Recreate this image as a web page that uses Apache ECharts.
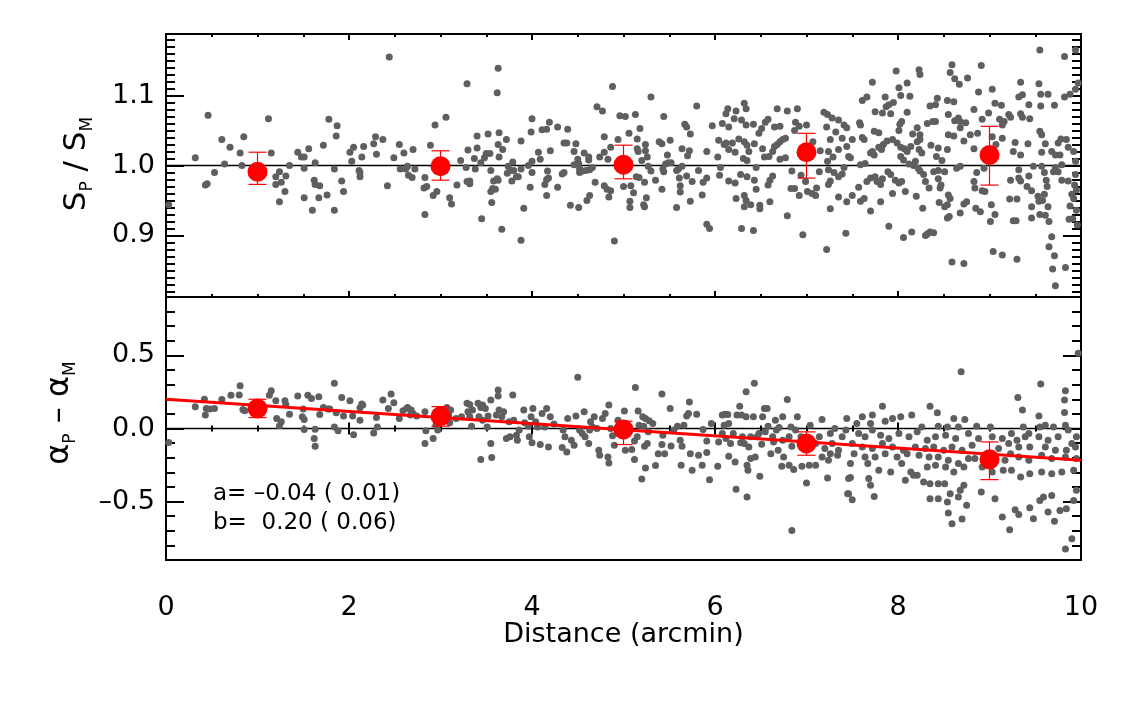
<!DOCTYPE html>
<html>
<head>
<meta charset="utf-8">
<title>Distance</title>
<script src="https://cdn.jsdelivr.net/npm/echarts@6/dist/echarts.min.js"></script>
<style>
  html, body { margin: 0; padding: 0; background: #fff; }
  #chart { width: 1146px; height: 707px; }
</style>
</head>
<body>
<div id="chart"></div>
<script>
// x ticks / y ticks
var xMajorTicks = [0, 2, 4, 6, 8, 10];
var topMajorTicks = [0.9, 1.0, 1.1];
var botMajorTicks = [-0.5, 0.0, 0.5];

// binned means (red)
var binX = [1, 3, 5, 7, 9];
var topBinY  = [0.991, 0.999, 1.001, 1.019, 1.015];
var topBinLo = [0.973, 0.979, 0.981, 0.982, 0.972];
var topBinHi = [1.019, 1.021, 1.029, 1.046, 1.056];
var botBinY  = [0.137, 0.084, -0.007, -0.103, -0.211];
var botBinLo = [0.075, 0.016, -0.110, -0.183, -0.350];
var botBinHi = [0.200, 0.150, 0.050, -0.023, -0.092];

// linear fit, alpha_P - alpha_M = a*d + b
var fitLine = [[0, 0.200], [10, -0.218]];
var fitText = ['a= –0.04 ( 0.01)', 'b=  0.20 ( 0.06)'];

// S_P / S_M  vs distance
var topPoints = [
[0.46,1.072],[1.12,1.067],[1.78,1.066],[1.87,1.057],[1.86,1.042],[0.61,1.037],[0.85,1.041],[0.70,1.026],[0.81,1.018],[1.15,1.018],[0.32,1.011],[0.64,1.002],[0.83,1.000],[0.53,0.990],[0.43,0.972],[0.45,0.974],[1.20,0.984],[1.24,0.991],[1.20,0.973],[1.26,0.976],[1.31,0.985],[1.30,0.963],[1.24,0.948],[1.35,1.000],[1.44,1.019],[1.48,1.012],[1.51,1.012],[1.56,1.024],[1.63,1.004],[1.51,0.996],[1.51,0.954],[1.60,0.936],[1.62,0.979],[1.63,0.973],[1.68,0.971],[1.67,0.954],[1.76,0.958],[1.72,1.029],[1.84,0.995],[1.84,0.936],[1.92,0.978],[1.94,0.963],[2.01,1.019],[2.05,1.026],[2.03,1.006],[2.16,1.027],[2.14,1.012],[2.11,0.993],[2.12,0.990],[2.12,0.984],[2.27,1.031],[2.29,1.041],[2.30,1.016],[2.37,1.037],[2.42,0.971],[0.03,0.944],[2.44,1.155],
[2.49,1.011],[2.55,1.030],[2.60,1.018],[2.70,1.023],[2.56,0.995],[2.62,0.995],[2.64,0.999],[2.65,0.986],[2.69,0.983],[2.72,0.995],[2.83,0.983],[2.82,0.968],[2.85,0.970],[2.89,1.029],[2.94,1.058],[3.06,1.069],[2.92,0.957],[2.96,0.963],[3.10,0.954],[3.12,0.945],[2.83,0.930],[3.29,1.117],[3.63,1.139],[3.62,1.104],[3.18,0.972],[3.22,1.007],[3.28,0.997],[3.30,1.022],[3.29,0.977],[3.32,0.978],[3.32,0.974],[3.38,0.995],[3.37,1.010],[3.40,1.025],[3.40,1.042],[3.44,1.004],[3.45,0.924],[3.48,1.011],[3.50,1.017],[3.52,1.045],[3.54,1.017],[3.55,0.993],[3.55,0.963],[3.56,0.947],[3.57,0.967],[3.60,0.966],[3.58,0.978],[3.62,0.981],[3.63,0.979],[3.63,1.030],[3.64,1.047],[3.64,1.012],[3.68,1.023],[3.72,1.037],[3.67,0.909],[3.73,0.989],[3.74,0.999],[3.76,0.993],[3.78,0.978],[3.79,1.005],[3.80,0.993],[3.83,0.984],[3.85,0.984],[3.88,0.995],[3.88,1.035],[3.91,0.939],[3.88,0.893],[3.96,1.000],[3.98,0.969],[3.99,1.048],[4.00,1.067],[4.00,1.006],[4.00,0.990],[4.07,1.019],[4.09,1.009],[4.11,1.051],[4.16,1.052],[4.19,1.062],[4.20,1.021],[4.14,0.973],[4.16,0.980],[4.18,0.982],[4.16,0.957],[4.17,0.992],[4.28,1.055],[4.28,0.969],[4.33,0.988],[4.35,0.990],[4.39,1.052],[4.35,1.032],[4.38,1.032],[4.42,0.943],[4.46,1.001],[4.48,1.031],[4.46,1.020],[4.50,1.009],[4.51,0.940],[4.51,1.003],[4.52,0.990],[4.57,1.018],[4.62,1.012],[4.62,1.008],[4.60,0.950],[4.63,0.957],[4.52,0.995],[4.55,0.992],[4.59,0.993],[4.63,0.994],[4.66,0.997],[4.69,0.976],[4.71,1.084],[4.77,1.078],[4.74,1.012],[4.79,1.041],[4.79,1.019],[4.83,1.009],[4.79,0.971],[4.82,0.966],[4.84,0.955],[4.86,0.964],[4.86,1.026],[4.88,1.113],[4.90,0.892],[4.96,1.071],[4.94,1.037],
[5.02,1.070],[5.30,1.098],[5.80,1.085],[5.13,1.073],[5.44,1.070],[5.06,1.046],[5.18,1.053],[5.24,1.030],[5.15,1.038],[5.20,1.007],[5.26,1.012],[5.15,1.024],[5.16,1.020],[5.24,1.021],[5.39,1.034],[5.42,1.031],[5.51,1.036],[5.27,0.999],[5.30,0.992],[5.35,0.979],[5.23,0.976],[5.14,0.984],[5.17,0.983],[5.08,0.971],[5.00,0.970],[5.07,0.949],[5.07,0.940],[5.23,0.941],[5.22,0.944],[5.25,0.954],[5.11,0.961],[5.42,0.966],[5.44,0.991],[5.43,0.995],[5.46,1.002],[5.49,1.004],[5.52,1.004],[5.48,1.015],[5.58,0.993],[5.60,0.995],[5.64,0.999],[5.61,0.982],[5.62,0.971],[5.62,0.962],[5.73,0.949],[5.58,0.940],[5.64,1.024],[5.72,1.021],[5.69,1.055],[5.67,1.059],[5.73,1.045],[5.70,1.014],[5.69,0.985],[5.75,0.977],[5.82,0.993],[5.87,0.976],[5.91,0.982],[5.91,1.020],[5.86,0.958],[5.91,0.916],[5.94,0.910],[5.97,1.057],[6.03,1.012],[6.05,0.986],[6.06,0.997],[6.04,1.036],[6.08,1.060],[6.12,1.074],[6.14,1.081],[6.15,1.055],[6.23,1.078],[6.32,1.089],[6.34,1.081],[6.21,1.067],[6.29,1.065],[6.34,1.058],[6.42,1.059],[6.10,1.030],[6.12,1.032],[6.15,1.023],[6.19,1.032],[6.22,1.019],[6.26,1.038],[6.32,1.034],[6.35,1.029],[6.37,1.020],[6.15,0.978],[6.22,0.975],[6.28,0.987],[6.35,0.984],[6.32,0.957],[6.23,0.953],[6.34,0.950],[6.32,0.941],[6.39,0.944],[6.29,0.910],[6.42,0.907],[6.31,1.010],[6.35,1.007],[6.43,1.031],[6.45,0.997],[6.43,0.979],[6.45,0.966],[6.49,0.943],[6.49,0.938],[6.48,1.046],[6.51,1.053],[6.55,1.062],[6.58,1.066],[6.52,1.024],[6.54,1.012],[6.59,1.013],[6.63,1.020],[6.63,0.985],[6.60,0.979],[6.58,0.972],[6.60,0.948],[6.65,1.027],[6.68,1.030],[6.71,1.034],[6.74,1.037],[6.77,1.039],[6.68,1.081],[6.79,1.078],[6.90,1.081],[6.71,1.056],[6.65,1.055],[6.71,1.009],[6.77,1.011],[6.79,0.928],[6.84,0.992],[6.83,0.967],[6.87,0.967],[6.92,0.957],[6.94,0.986],[6.99,0.977],[7.01,0.963],[7.06,0.960],[7.10,0.957],[6.96,0.901],[6.88,1.062],[6.92,1.056],[6.87,1.050],[7.00,1.058],[7.07,1.034],[7.15,1.021],[7.23,1.073],[7.19,1.076],[7.28,1.068],[7.35,1.065],[7.41,1.058],[7.44,1.054],[7.22,1.055],[7.26,1.037],[7.32,1.048],[7.39,1.039],[7.24,1.020],[7.29,1.012],[7.35,1.023],[7.44,1.027],[7.23,1.006],[7.24,0.994],[7.30,0.990],[7.35,0.984],[7.39,0.988],[7.26,0.978],[7.24,0.973],[7.35,0.955],[7.26,0.938],[7.22,0.880],[7.43,0.903],[7.44,0.948],[7.41,0.997],[7.46,1.013],[7.11,0.968],[7.14,0.991],
[9.55,1.165],[9.94,1.165],[9.82,1.156],[8.59,1.144],[8.91,1.143],[7.98,1.135],[8.23,1.137],[8.24,1.130],[8.57,1.133],[8.62,1.124],[8.67,1.116],[8.76,1.125],[7.72,1.119],[8.01,1.111],[8.10,1.118],[9.54,1.117],[9.34,1.119],[8.88,1.105],[9.03,1.109],[7.61,1.093],[7.66,1.098],[7.86,1.098],[8.03,1.100],[8.13,1.099],[7.95,1.090],[7.90,1.087],[7.87,1.084],[7.83,1.075],[7.75,1.077],[7.92,1.074],[8.10,1.076],[8.35,1.085],[8.41,1.087],[8.43,1.096],[8.54,1.093],[8.61,1.091],[8.83,1.080],[8.99,1.075],[9.06,1.089],[9.13,1.086],[9.32,1.098],[9.36,1.101],[9.43,1.087],[9.56,1.102],[9.64,1.102],[9.56,1.085],[9.71,1.086],[9.82,1.098],[9.88,1.102],[9.94,1.109],[9.97,1.118],[9.34,1.074],[9.36,1.069],[9.44,1.067],[9.21,1.073],[9.23,1.069],[9.11,1.066],[9.16,1.063],[9.14,1.058],[8.92,1.066],[8.74,1.061],[8.68,1.063],[8.62,1.064],[8.66,1.068],[8.55,1.073],[8.41,1.063],[8.38,1.063],[8.32,1.060],[8.21,1.054],[8.24,1.044],[8.16,1.045],[8.02,1.059],[8.01,1.050],[8.04,1.063],[7.58,1.061],[7.59,1.058],[7.61,1.040],[7.63,1.037],[7.50,1.037],[7.74,1.049],[7.79,1.047],[7.72,1.020],[7.70,1.018],[7.79,1.026],[7.84,1.030],[7.82,1.023],[7.88,1.035],[7.94,1.037],[7.99,1.032],[8.03,1.026],[8.07,1.024],[8.10,1.020],[8.03,1.013],[8.06,1.008],[8.14,1.027],[8.21,1.034],[8.24,1.037],[8.23,1.023],[8.26,1.018],[8.12,1.002],[8.19,1.006],[8.17,1.000],[8.36,1.029],[8.44,1.025],[8.42,1.013],[8.54,1.023],[8.55,1.044],[8.61,1.042],[8.68,1.054],[8.72,1.035],[8.79,1.044],[8.83,1.024],[8.87,1.046],[9.03,1.041],[9.14,1.039],[9.07,1.030],[9.26,1.020],[9.28,1.033],[9.34,1.015],[9.42,1.031],[9.55,1.049],[9.57,1.044],[9.61,1.031],[9.57,1.019],[9.68,1.020],[9.72,1.015],[9.77,1.015],[9.75,1.032],[9.78,1.038],[9.84,1.037],[9.86,1.026],[9.92,1.020],[9.94,1.006],[9.79,1.001],[9.72,0.997],[9.70,0.991],[9.75,0.991],[9.79,0.979],[9.86,0.978],[9.94,0.987],[9.93,0.972],[9.95,0.965],[9.90,0.959],[9.88,0.942],[9.95,0.936],[9.91,0.924],[9.96,0.915],[9.87,0.923],[9.92,0.953],[9.60,0.990],[9.62,0.979],[9.63,0.970],[9.60,0.959],[9.58,0.950],[9.53,0.956],[9.46,0.964],[9.41,0.970],[9.43,0.985],[9.48,0.999],[9.57,0.999],[9.32,0.994],[9.32,0.982],[9.34,0.978],[9.23,0.979],[9.22,0.952],[9.30,0.952],[9.46,0.941],[9.54,0.949],[9.64,0.941],[9.55,0.930],[9.61,0.929],[9.46,0.925],[9.26,0.921],[9.29,0.921],[9.65,0.920],[9.68,0.898],[9.65,0.884],[9.71,0.871],[9.83,0.854],[9.69,0.852],[9.72,0.828],[9.04,0.877],[9.14,0.872],[9.30,0.866],[8.59,0.862],[8.72,0.860],[9.01,0.920],[9.06,0.930],[9.02,0.944],[8.95,0.963],[8.92,0.964],[8.85,0.939],[8.90,0.934],[8.84,0.968],[8.86,0.990],[8.83,0.977],[8.94,0.996],[8.68,0.999],[8.64,0.996],[8.51,0.991],[8.48,1.007],[8.44,0.993],[8.39,0.991],[8.44,0.981],[8.47,0.972],[8.46,0.968],[8.55,0.958],[8.57,0.953],[8.54,0.944],[8.51,0.941],[8.56,0.927],[8.54,0.925],[8.68,0.932],[8.72,0.945],[8.75,0.948],[8.45,0.947],[8.34,0.968],[8.30,0.977],[8.28,0.987],[8.24,0.992],[8.22,0.996],[8.20,0.956],[8.27,0.939],[8.35,0.905],[8.32,0.902],[8.30,0.900],[8.39,0.904],[8.15,0.905],[8.06,0.897],[7.90,0.913],[7.50,0.957],[7.57,0.969],[7.66,0.977],[7.70,0.982],[7.75,0.984],[7.77,0.977],[7.81,0.973],[7.83,0.981],[7.89,0.991],[7.92,0.987],[7.97,0.979],[8.01,0.975],[8.04,0.977],[8.08,0.963],[7.94,0.960],[7.81,0.948],[7.70,0.935],[7.63,0.953],[7.59,0.949],[7.64,1.003],[7.74,1.015],[7.48,1.011],[7.59,1.001]
];

// alpha_P - alpha_M  vs distance
var botPoints = [
[0.32,0.149],[0.42,0.201],[0.44,0.137],[0.43,0.092],[0.48,0.133],[0.53,0.137],[0.61,0.199],[0.71,0.227],[0.80,0.229],[0.81,0.293],[0.84,0.130],[0.86,0.121],[1.13,0.227],[1.15,0.259],[1.20,0.190],[1.21,0.069],[1.26,0.046],[1.24,0.018],[1.30,0.190],[1.31,0.165],[1.35,0.098],[1.44,0.222],[1.49,0.080],[1.51,0.062],[1.50,0.133],[1.51,-0.007],[1.55,0.227],[1.59,0.206],[1.62,-0.069],[1.63,-0.121],[1.63,-0.005],[1.67,0.217],[1.68,0.096],[1.72,0.144],[1.77,0.133],[1.79,0.133],[1.84,0.309],[1.84,0.011],[1.88,-0.016],[1.86,0.108],[1.92,0.213],[1.94,0.085],[2.01,0.190],[2.04,0.085],[2.05,-0.043],[2.12,0.142],[2.14,0.167],[2.15,0.160],[2.12,0.057],[2.27,-0.030],[2.30,0.076],[2.31,0.011],[2.37,0.195],[2.43,0.137],[2.46,0.236],[0.03,-0.096],
[2.49,0.176],[2.55,0.069],[2.59,0.121],[2.63,0.137],[2.64,0.144],[2.68,0.126],[2.70,0.103],[2.67,0.092],[2.74,0.085],[2.83,0.114],[2.84,-0.016],[2.83,-0.103],[2.92,-0.069],[2.97,-0.011],[2.95,0.023],[3.07,0.144],[3.09,0.092],[3.11,0.126],[3.10,0.039],[3.17,0.069],[3.23,0.080],[3.29,0.172],[3.32,0.165],[3.30,0.114],[3.32,0.080],[3.35,0.126],[3.34,0.016],[3.41,0.172],[3.44,0.144],[3.46,0.160],[3.49,0.137],[3.42,0.080],[3.46,0.057],[3.52,0.085],[3.51,0.011],[3.55,-0.103],[3.56,-0.199],[3.44,-0.213],[3.55,0.195],[3.63,0.263],[3.63,0.222],[3.64,0.126],[3.61,0.092],[3.67,0.080],[3.69,0.114],[3.72,-0.069],[3.75,0.046],[3.76,-0.057],[3.79,0.229],[3.80,0.057],[3.83,-0.046],[3.84,-0.080],[3.86,-0.011],[3.91,0.126],[3.92,0.039],[3.96,0.016],[3.97,-0.057],[3.99,0.080],[4.00,-0.098],[4.01,0.137],[4.04,0.046],[4.06,0.011],[4.09,-0.110],[4.11,0.103],[4.14,0.011],[4.16,0.137],[4.18,-0.126],[4.20,0.080],[4.24,0.030],[4.33,-0.130],[4.34,-0.011],[4.36,-0.057],[4.38,-0.160],[4.39,0.069],[4.43,-0.080],[4.46,-0.114],[4.48,0.085],[4.50,0.350],[4.52,-0.011],[4.55,-0.034],[4.57,0.114],[4.58,-0.057],[4.62,-0.103],[4.63,-0.011],[4.64,0.046],[4.66,0.011],[4.68,0.080],[4.71,0.000],[4.73,-0.149],[4.74,-0.183],[4.77,0.069],[4.80,0.103],[4.84,0.160],[4.83,-0.195],[4.84,-0.236],[4.86,0.000],[4.88,-0.050],[4.90,-0.114],[4.94,0.057],
[5.13,0.281],[5.42,0.236],[5.72,0.181],[5.51,0.137],[5.16,0.119],[5.01,0.119],[5.21,0.080],[5.24,0.069],[5.28,0.053],[5.17,0.023],[5.22,0.016],[5.32,0.034],[5.27,-0.023],[5.15,-0.057],[5.12,-0.085],[5.23,-0.121],[5.26,-0.103],[5.09,-0.144],[5.02,-0.149],[5.12,-0.213],[5.24,-0.270],[5.20,-0.346],[5.35,-0.254],[5.38,-0.172],[5.42,-0.110],[5.43,-0.046],[5.45,-0.172],[5.52,-0.119],[5.55,-0.011],[5.59,0.016],[5.62,-0.080],[5.64,-0.121],[5.63,-0.252],[5.66,0.023],[5.69,0.085],[5.73,-0.172],[5.75,-0.286],[5.71,0.103],[5.80,0.098],[5.82,-0.183],[5.86,-0.252],[5.87,-0.007],[5.91,-0.085],[5.91,-0.165],[5.94,-0.350],[5.96,0.034],[6.03,-0.259],[6.04,-0.092],[6.08,0.092],[6.11,0.098],[6.10,0.023],[6.14,0.096],[6.15,0.034],[6.17,-0.103],[6.15,-0.190],[6.22,-0.229],[6.23,-0.416],[6.24,0.092],[6.27,0.153],[6.29,0.092],[6.34,0.252],[6.34,0.080],[6.28,-0.098],[6.32,-0.103],[6.37,-0.126],[6.35,-0.252],[6.36,-0.286],[6.39,-0.206],[6.35,-0.469],[6.42,0.080],[6.43,0.309],[6.46,-0.057],[6.44,-0.195],[6.49,-0.327],[6.51,-0.108],[6.52,0.080],[6.54,0.137],[6.57,0.137],[6.58,0.016],[6.61,-0.172],[6.63,-0.057],[6.66,0.057],[6.67,-0.011],[6.70,0.007],[6.74,0.080],[6.69,-0.149],[6.73,-0.259],[6.75,-0.195],[6.79,0.199],[6.81,-0.057],[6.84,-0.121],[6.81,-0.252],[6.86,-0.281],[6.90,0.080],[6.94,-0.057],[6.95,-0.259],[6.99,-0.144],[7.00,-0.373],[7.03,-0.252],[7.10,-0.252],[7.04,0.023],[7.10,-0.103],[7.14,-0.057],[7.17,0.062],[7.20,-0.137],[7.23,-0.339],[7.26,-0.034],[7.26,-0.172],[7.28,-0.103],[7.31,0.000],[7.34,-0.183],[7.35,-0.149],[7.39,-0.057],[7.43,-0.011],[7.44,0.069],[7.46,-0.343],[7.45,-0.446],[6.84,-0.698],[7.17,-0.195],[7.24,-0.217],[6.08,-0.034],[6.12,-0.069],[6.20,-0.034],[6.30,-0.057],[6.39,-0.057],[6.48,-0.034],[6.55,-0.023],[6.64,-0.092],[6.74,-0.080],[6.83,0.011],[6.88,-0.011],
[9.97,0.515],[8.69,0.389],[9.56,0.304],[9.31,0.213],[9.36,0.126],[9.83,0.259],[9.82,0.195],[9.82,0.110],[9.83,0.023],[9.54,0.085],[7.83,0.153],[8.35,0.153],[8.43,0.108],[8.61,0.069],[8.73,0.062],[7.61,0.080],[7.72,0.092],[7.55,0.034],[7.70,0.034],[7.86,0.050],[7.94,0.069],[8.03,0.080],[8.15,0.092],[8.26,0.011],[8.44,0.016],[8.54,0.011],[8.66,0.011],[8.86,0.016],[9.01,0.011],[9.24,-0.034],[9.37,0.011],[9.43,-0.034],[9.55,0.011],[9.61,0.023],[9.70,0.011],[9.86,-0.011],[9.95,-0.057],[7.57,-0.034],[7.64,-0.057],[7.72,-0.011],[7.81,-0.046],[7.90,-0.069],[8.01,-0.034],[8.12,-0.057],[8.21,-0.023],[8.32,-0.080],[8.41,-0.057],[8.52,-0.046],[8.63,-0.069],[8.77,-0.034],[8.88,-0.069],[9.03,-0.057],[9.14,-0.069],[9.21,-0.103],[9.30,-0.080],[9.39,-0.057],[9.54,-0.057],[9.64,-0.080],[9.75,-0.057],[9.90,-0.103],[7.50,-0.103],[7.61,-0.126],[7.72,-0.137],[7.83,-0.103],[7.94,-0.126],[8.06,-0.149],[8.19,-0.126],[8.30,-0.137],[8.39,-0.126],[8.50,-0.149],[8.59,-0.126],[8.70,-0.149],[8.81,-0.114],[9.10,-0.137],[9.23,-0.172],[9.32,-0.126],[9.44,-0.126],[9.61,-0.126],[9.72,-0.149],[9.84,-0.149],[9.94,-0.126],[7.52,-0.172],[7.64,-0.195],[7.75,-0.195],[7.86,-0.172],[7.99,-0.195],[8.10,-0.172],[8.23,-0.183],[8.34,-0.195],[8.44,-0.195],[8.55,-0.217],[8.66,-0.240],[8.77,-0.206],[8.84,-0.206],[9.06,-0.195],[9.17,-0.217],[9.32,-0.195],[9.43,-0.217],[9.57,-0.183],[9.68,-0.206],[9.83,-0.195],[9.95,-0.206],[7.48,-0.240],[7.67,-0.240],[7.79,-0.286],[7.92,-0.297],[8.04,-0.240],[8.14,-0.297],[8.21,-0.320],[8.32,-0.263],[8.41,-0.252],[8.52,-0.263],[8.61,-0.297],[8.72,-0.263],[8.92,-0.263],[9.03,-0.297],[9.15,-0.286],[9.24,-0.286],[9.34,-0.332],[9.44,-0.309],[9.57,-0.297],[9.68,-0.309],[9.79,-0.297],[9.92,-0.286],[7.48,-0.336],[7.68,-0.343],[7.46,-0.446],[7.50,-0.487],[7.74,-0.465],[7.70,-0.389],[8.08,-0.355],[8.17,-0.320],[8.28,-0.366],[8.35,-0.378],[8.44,-0.378],[8.51,-0.378],[8.57,-0.446],[8.66,-0.469],[8.72,-0.389],[8.75,-0.526],[8.54,-0.503],[8.35,-0.481],[8.44,-0.481],[8.91,-0.435],[9.06,-0.481],[9.14,-0.606],[9.22,-0.693],[9.28,-0.556],[9.32,-0.588],[9.44,-0.542],[9.48,-0.618],[9.55,-0.492],[9.59,-0.469],[9.68,-0.458],[9.64,-0.572],[9.71,-0.634],[9.77,-0.561],[9.84,-0.549],[9.92,-0.492],[9.95,-0.423],[9.90,-0.755],[9.83,-0.824],[8.59,-0.652],[8.55,-0.579],[8.70,-0.620],[8.68,-0.423]
];

var FONT = 'DejaVu Sans';

function minorList(lo, hi, step) {
    var out = [];
    for (var v = lo; v <= hi + 1e-9; v += step) out.push(Math.round(v * 100) / 100);
    return out;
}
var topMinorTicks = minorList(0.82, 1.18, 0.01);
var botMinorTicks = minorList(-0.8, 0.8, 0.1);

function fmt(v) {
    return (v < 0 ? '–' : '') + Math.abs(v).toFixed(1);
}

function xAx(grid, pos, showLabel) {
    var ax = {
        type: 'value', gridIndex: grid, position: pos,
        min: 0, max: 10, interval: 2,
        axisLine: { show: false },
        splitLine: { show: false },
        axisTick: { show: true, inside: true, length: 6, lineStyle: { color: '#000', width: 2 } },
        minorTick: { show: true, splitNumber: 4, length: 3, lineStyle: { color: '#000', width: 2 } },
        axisLabel: { show: showLabel, margin: 34, fontSize: 27, fontFamily: FONT, color: '#000' }
    };
    if (showLabel) {
        ax.name = 'Distance (arcmin)';
        ax.nameLocation = 'middle';
        ax.nameGap = 52;
        ax.nameTextStyle = { fontSize: 27, fontFamily: FONT, color: '#000' };
    }
    return ax;
}

function yAx(grid, pos, min, max, ticks, len, showLabel) {
    return {
        type: 'value', gridIndex: grid, position: pos,
        min: min, max: max,
        axisLine: { show: false },
        splitLine: { show: false },
        axisTick: { show: true, inside: true, length: len, customValues: ticks, lineStyle: { color: '#000', width: 2 } },
        axisLabel: { show: showLabel, customValues: ticks, margin: 11, fontSize: 27, fontFamily: FONT, color: '#000', formatter: fmt }
    };
}

// error bars: [x, y, lo, hi]
function renderErr(params, api) {
    var x = api.value(0);
    var top = api.coord([x, api.value(3)]);
    var bot = api.coord([x, api.value(2)]);
    var w = 9;
    var st = { stroke: '#ff0000', lineWidth: 1.2 };
    return {
        type: 'group',
        children: [
            { type: 'line', shape: { x1: top[0], y1: top[1], x2: bot[0], y2: bot[1] }, style: st },
            { type: 'line', shape: { x1: top[0] - w, y1: top[1], x2: top[0] + w, y2: top[1] }, style: st },
            { type: 'line', shape: { x1: bot[0] - w, y1: bot[1], x2: bot[0] + w, y2: bot[1] }, style: st }
        ]
    };
}

var topErr = binX.map(function (x, i) { return [x, topBinY[i], topBinLo[i], topBinHi[i]]; });
var botErr = binX.map(function (x, i) { return [x, botBinY[i], botBinLo[i], botBinHi[i]]; });
var topMeans = binX.map(function (x, i) { return [x, topBinY[i]]; });
var botMeans = binX.map(function (x, i) { return [x, botBinY[i]]; });

var option = {
    animation: false,
    backgroundColor: '#fff',
    grid: [
        { left: 166, right: 65, top: 34, height: 263, show: true, borderColor: '#000', borderWidth: 2, backgroundColor: 'transparent' },
        { left: 166, right: 65, top: 297, height: 263, show: true, borderColor: '#000', borderWidth: 2, backgroundColor: 'transparent' }
    ],
    xAxis: [
        xAx(0, 'bottom', false),
        xAx(0, 'top', false),
        xAx(1, 'bottom', true),
        xAx(1, 'top', false)
    ],
    yAxis: [
        yAx(0, 'left', 0.812, 1.188, topMajorTicks, 18, true),
        yAx(0, 'left', 0.812, 1.188, topMinorTicks, 9, false),
        yAx(0, 'right', 0.812, 1.188, topMajorTicks, 18, false),
        yAx(0, 'right', 0.812, 1.188, topMinorTicks, 9, false),
        yAx(1, 'left', -0.9, 0.9, botMajorTicks, 18, true),
        yAx(1, 'left', -0.9, 0.9, botMinorTicks, 9, false),
        yAx(1, 'right', -0.9, 0.9, botMajorTicks, 18, false),
        yAx(1, 'right', -0.9, 0.9, botMinorTicks, 9, false)
    ],
    graphic: [
        { type: 'text', x: 81, y: 164, rotation: Math.PI / 2,
          style: { text: '{m|S}{s|P}{m| / S}{s|M}', align: 'center', verticalAlign: 'middle',
                   rich: { m: { fontSize: 31, fontFamily: FONT, lineHeight: 30, padding: [0, 0, 8, 0], verticalAlign: 'middle', fill: '#000' },
                           s: { fontSize: 17, fontFamily: FONT, lineHeight: 16, verticalAlign: 'bottom', fill: '#000' } } } },
        { type: 'text', x: 64, y: 413, rotation: Math.PI / 2,
          style: { text: '{m|α}{s|P}{m| – α}{s|M}', align: 'center', verticalAlign: 'middle',
                   rich: { m: { fontSize: 32, fontFamily: FONT, lineHeight: 30, padding: [0, 0, 8, 0], verticalAlign: 'middle', fill: '#000' },
                           s: { fontSize: 17, fontFamily: FONT, lineHeight: 16, verticalAlign: 'bottom', fill: '#000' } } } },
        { type: 'text', x: 213, y: 494, style: { text: fitText[0], fontSize: 23, fontFamily: FONT, fill: '#000', align: 'left', verticalAlign: 'middle' } },
        { type: 'text', x: 213, y: 523, style: { text: fitText[1], fontSize: 23, fontFamily: FONT, fill: '#000', align: 'left', verticalAlign: 'middle' } }
    ],
    series: [
        { type: 'line', xAxisIndex: 0, yAxisIndex: 0, data: [[0, 1], [10, 1]], symbol: 'none', silent: true, z: 1,
          lineStyle: { color: '#000', width: 1.5 } },
        { type: 'line', xAxisIndex: 2, yAxisIndex: 4, data: [[0, 0], [10, 0]], symbol: 'none', silent: true, z: 1,
          lineStyle: { color: '#000', width: 1.5 } },
        { type: 'scatter', xAxisIndex: 0, yAxisIndex: 0, data: topPoints, symbolSize: 7, z: 2,
          itemStyle: { color: '#5f5f5f', opacity: 1 } },
        { type: 'scatter', xAxisIndex: 2, yAxisIndex: 4, data: botPoints, symbolSize: 7, z: 2,
          itemStyle: { color: '#5f5f5f', opacity: 1 } },
        { type: 'line', xAxisIndex: 2, yAxisIndex: 4, data: fitLine, symbol: 'none', z: 3,
          lineStyle: { color: '#ff0000', width: 3 } },
        { type: 'custom', xAxisIndex: 0, yAxisIndex: 0, data: topErr, renderItem: renderErr, encode: { x: 0, y: 1 }, z: 4 },
        { type: 'custom', xAxisIndex: 2, yAxisIndex: 4, data: botErr, renderItem: renderErr, encode: { x: 0, y: 1 }, z: 4 },
        { type: 'scatter', xAxisIndex: 0, yAxisIndex: 0, data: topMeans, symbolSize: 20, z: 5,
          itemStyle: { color: '#ff0000', opacity: 1 } },
        { type: 'scatter', xAxisIndex: 2, yAxisIndex: 4, data: botMeans, symbolSize: 20, z: 5,
          itemStyle: { color: '#ff0000', opacity: 1 } }
    ]
};

var chart = echarts.init(document.getElementById('chart'));
chart.setOption(option);
</script>
</body>
</html>
